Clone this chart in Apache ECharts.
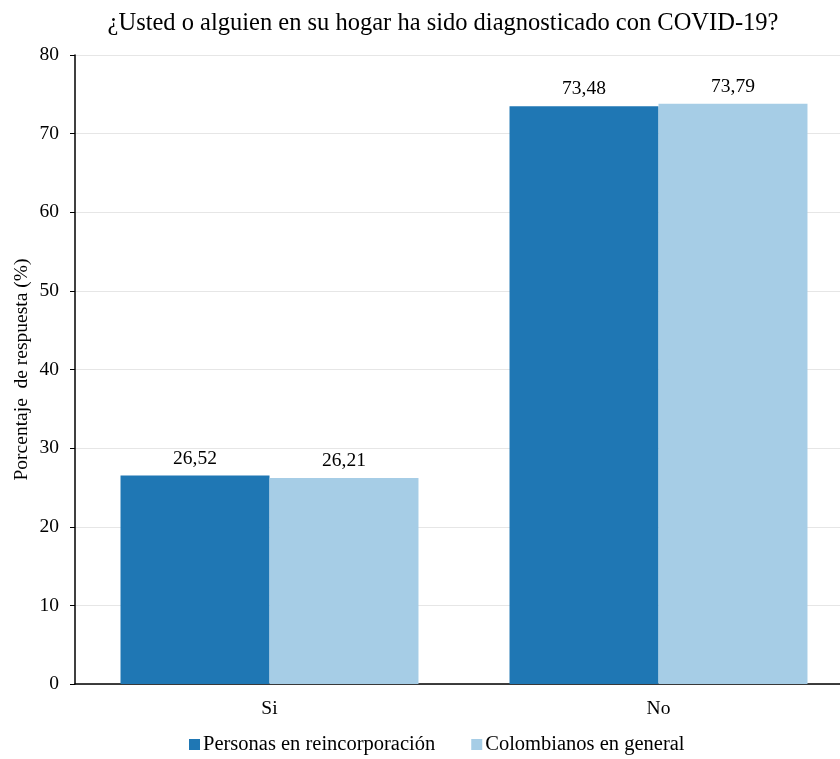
<!DOCTYPE html>
<html><head><meta charset="utf-8">
<script src="https://cdn.jsdelivr.net/npm/echarts@6/dist/echarts.min.js"></script>
<style>html,body{margin:0;padding:0;background:#fff}#c{width:840px;height:759px}</style>
</head><body><div id="c"></div>
<script>
const categories = ['Si', 'No'];
const reincorporacion = [26.52, 73.48];
const colombianos = [26.21, 73.79];
const seriesNames = ['Personas en reincorporación', 'Colombianos en general'];
const yTicks = {min: 0, max: 80, interval: 10};

const font = 'Liberation Serif';
const chart = echarts.init(document.getElementById('c'));
const lbl = {show: true, position: 'top', distance: 7, fontFamily: font, fontSize: 19.5, color: '#000',
  formatter: p => p.value.toFixed(2).replace('.', ',')};
chart.setOption({
  animation: false,
  title: {text: '¿Usted o alguien en su hogar ha sido diagnosticado con COVID-19?', left: 438, top: 6, textAlign: 'center',
    textStyle: {fontFamily: font, fontSize: 24.5, fontWeight: 'normal', color: '#000'}},
  legend: {bottom: -1, left: 184, itemWidth: 11, itemHeight: 11, itemGap: 36, icon: 'rect',
    textStyle: {fontFamily: font, fontSize: 20.5, color: '#000', padding: [0,0,0,-2]}},
  grid: {left: 75, top: 55, bottom: 75, right: -13, containLabel: false, outerBoundsMode: 'none'},
  xAxis: {type: 'category', data: categories,
    axisLine: {lineStyle: {color: '#000', width: 1.5}}, axisTick: {show: false},
    axisLabel: {fontFamily: font, fontSize: 19.5, color: '#000', margin: 15}},
  yAxis: {type: 'value', min: yTicks.min, max: yTicks.max, interval: yTicks.interval,
    name: 'Porcentaje  de respuesta (%)', nameLocation: 'middle', nameGap: 43, nameMoveOverlap: false,
    nameTextStyle: {fontFamily: font, fontSize: 19.5, color: '#000'},
    axisLine: {show: true, lineStyle: {color: '#000', width: 1.5}},
    axisTick: {show: true, length: 5, lineStyle: {color: '#000'}},
    axisLabel: {fontFamily: font, fontSize: 19.5, color: '#000', margin: 16}},
  series: [
    {name: seriesNames[0], type: 'bar', data: reincorporacion, barGap: '0%', barCategoryGap: '23.4%',
     itemStyle: {color: '#1f77b4'}, label: lbl},
    {name: seriesNames[1], type: 'bar', data: colombianos,
     itemStyle: {color: '#a6cde6'}, label: lbl}
  ]
});
chart.setOption({yAxis: {splitLine: {lineStyle: {color: '#e6e6e6'}}}});
</script></body></html>
